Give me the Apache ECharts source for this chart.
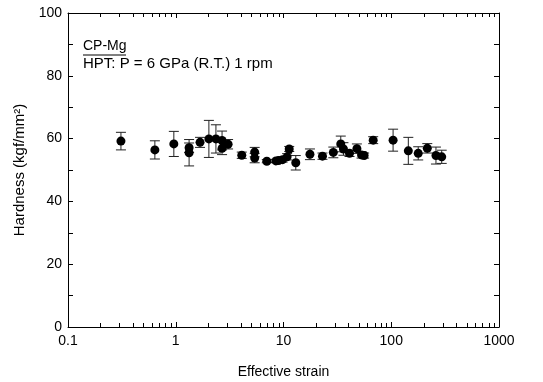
<!DOCTYPE html>
<html>
<head>
<meta charset="utf-8">
<script src="https://cdn.jsdelivr.net/npm/echarts@6/dist/echarts.min.js"></script>
<style>
  html, body { margin: 0; padding: 0; background: #fff; }
  #hardness { width: 543px; height: 382px; }
</style>
</head>
<body>
<div id="hardness"></div>
<script>
// effective strain, hardness (kgf/mm2), error bar half-height
var strain = [0.31, 0.64, 0.96, 1.33, 1.33, 1.68, 2.03, 2.36, 2.69, 2.69, 3.06,
    4.1, 5.4, 5.4, 7.0, 8.5, 9.0, 9.8, 10.8, 11.3, 13.0,
    17.6, 23, 29, 34, 36, 41, 48, 53, 56, 68,
    104, 144, 178, 216, 260, 294];
var hardness = [59.2, 56.4, 58.3, 57.1, 55.5, 58.8, 59.9, 59.9, 59.4, 56.9, 58.2,
    54.7, 55.7, 53.8, 52.8, 52.9, 53.0, 53.3, 54.2, 56.7, 52.3,
    55.0, 54.4, 55.6, 58.3, 56.7, 55.3, 56.8, 54.8, 54.6, 59.5,
    59.5, 56.1, 55.3, 56.9, 54.6, 54.2];
var errBar = [2.8, 2.9, 4.0, 1.5, 4.2, 1.6, 5.9, 4.5, 3.0, 2.0, 1.5,
    1.0, 1.5, 1.5, 0.5, 0.5, 0.6, 0.8, 1.0, 0.8, 2.3,
    1.7, 1.0, 1.7, 2.5, 2.0, 1.0, 1.5, 1.0, 0.8, 1.1,
    3.5, 4.3, 2.1, 1.5, 2.7, 2.1];

var xMin = 0.1, xMax = 1000;
var yMin = 0, yMax = 100;

// minor tick positions of the log axis (2..9 in every decade)
var decades = [0.1, 1, 10, 100];
var logMinor = [];
decades.forEach(function (d) {
    for (var k = 2; k <= 9; k++) {
        logMinor.push([+(d * k).toPrecision(3), 50]);
    }
});

var font = 'Liberation Sans, Arial, sans-serif';

var points = [];
var bars = [];
for (var i = 0; i < strain.length; i++) {
    points.push([strain[i], hardness[i]]);
    bars.push([strain[i], hardness[i] - errBar[i], hardness[i] + errBar[i]]);
}

var chart = echarts.init(document.getElementById('hardness'));

function axisX(pos, showLabel) {
    return {
        type: 'log',
        logBase: 10,
        position: pos,
        min: xMin,
        max: xMax,
        name: showLabel ? 'Effective strain' : '',
        nameLocation: 'middle',
        nameGap: 38,
        nameTextStyle: { color: '#000', fontSize: 14, fontFamily: font },
        axisLine: { show: true, onZero: false, lineStyle: { color: '#000', width: 1 } },
        axisTick: { show: true, inside: true, length: 5, lineStyle: { color: '#000' } },
        axisLabel: {
            show: showLabel, color: '#000', fontSize: 14, fontFamily: font, margin: 7,
            formatter: function (v) { return String(+v.toPrecision(3)); }
        },
        splitLine: { show: false }
    };
}

function axisY(pos, showLabel) {
    return {
        type: 'value',
        position: pos,
        min: yMin,
        max: yMax,
        interval: 20,
        name: showLabel ? 'Hardness (kgf/mm²)' : '',
        nameLocation: 'middle',
        nameGap: 35,
        nameTextStyle: { color: '#000', fontSize: 15, fontFamily: font },
        axisLine: { show: true, onZero: false, lineStyle: { color: '#000', width: 1 } },
        axisTick: { show: true, inside: true, length: 5, lineStyle: { color: '#000' } },
        minorTick: { show: true, splitNumber: 2, length: 5, lineStyle: { color: '#000' } },
        axisLabel: { show: showLabel, color: '#000', fontSize: 14, fontFamily: font, margin: 6 },
        splitLine: { show: false }
    };
}

var option = {
    animation: false,
    backgroundColor: '#fff',
    grid: { left: 68, right: 44, top: 13, bottom: 55, outerBoundsMode: 'none', containLabel: false },
    xAxis: [axisX('bottom', true), axisX('top', false)],
    yAxis: [axisY('left', true), axisY('right', false)],
    graphic: [
        {
            type: 'text', left: 83, top: 39,
            style: { text: 'CP-Mg', fill: '#000', font: '14px ' + font }
        },
        {
            type: 'line', shape: { x1: 83, y1: 55, x2: 126, y2: 55 },
            style: { stroke: '#000', lineWidth: 1 }
        },
        {
            type: 'text', left: 83, top: 56,
            style: { text: 'HPT: P = 6 GPa (R.T.) 1 rpm', fill: '#000', font: '15px ' + font }
        }
    ],
    series: [
        {
            type: 'custom',
            silent: true,
            data: bars,
            renderItem: function (params, api) {
                var lo = api.coord([api.value(0), api.value(1)]);
                var hi = api.coord([api.value(0), api.value(2)]);
                var w = 5;
                var st = { stroke: '#222', lineWidth: 1 };
                return {
                    type: 'group',
                    children: [
                        { type: 'line', shape: { x1: lo[0], y1: lo[1], x2: hi[0], y2: hi[1] }, style: st },
                        { type: 'line', shape: { x1: lo[0] - w, y1: lo[1], x2: lo[0] + w, y2: lo[1] }, style: st },
                        { type: 'line', shape: { x1: hi[0] - w, y1: hi[1], x2: hi[0] + w, y2: hi[1] }, style: st }
                    ]
                };
            },
            encode: { x: 0, y: [1, 2] },
            z: 2
        },
        {
            type: 'scatter',
            data: points,
            symbol: 'circle',
            symbolSize: 9,
            itemStyle: { color: '#000', opacity: 1 },
            z: 3
        },
        {
            // log-axis minor ticks, bottom and top
            type: 'custom',
            silent: true,
            data: logMinor,
            renderItem: function (params, api) {
                var v = api.value(0);
                var b = api.coord([v, yMin]);
                var t = api.coord([v, yMax]);
                var x = Math.round(b[0]) + 0.5;
                var st = { stroke: '#000', lineWidth: 1 };
                return {
                    type: 'group',
                    children: [
                        { type: 'line', shape: { x1: x, y1: b[1], x2: x, y2: b[1] - 4 }, style: st },
                        { type: 'line', shape: { x1: x, y1: t[1], x2: x, y2: t[1] + 4 }, style: st }
                    ]
                };
            },
            encode: { x: 0, y: 1 },
            clip: false,
            z: 4
        }
    ]
};

chart.setOption(option);
</script>
</body>
</html>
